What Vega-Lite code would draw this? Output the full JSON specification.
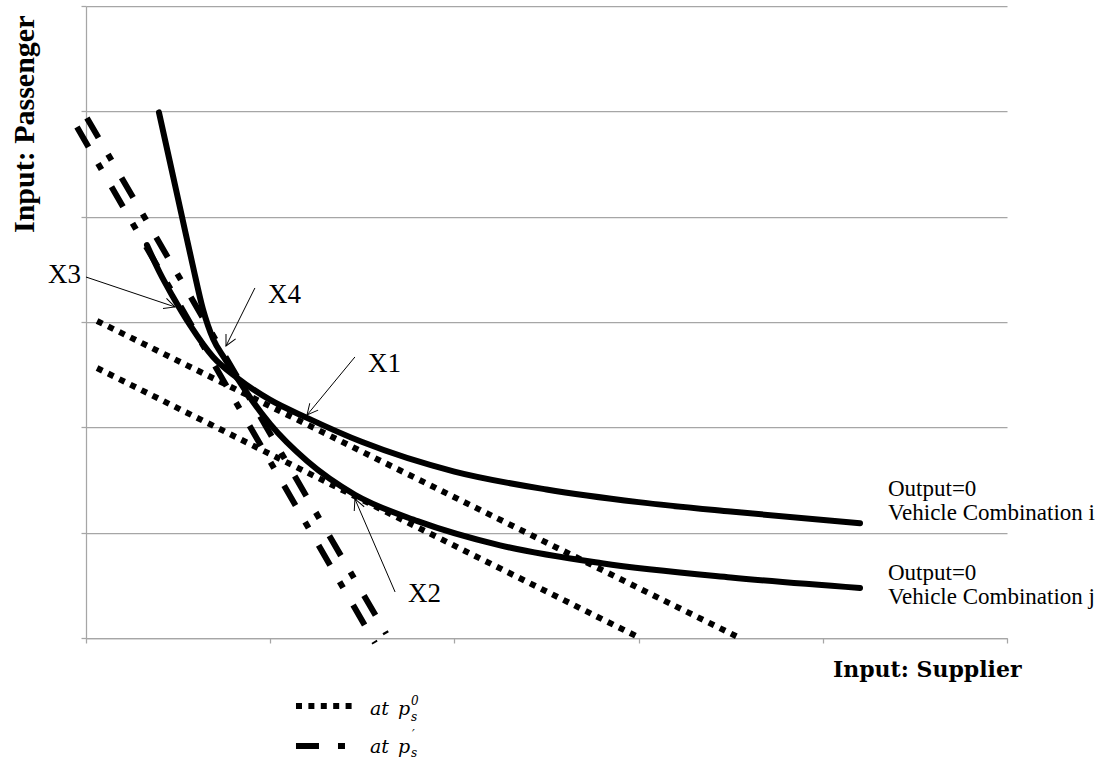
{
  "$schema": "https://vega.github.io/schema/vega-lite/v6.json",
  "width": 921,
  "height": 632,
  "autosize": {"type": "none"},
  "padding": {"left": 86, "top": 6, "right": 97, "bottom": 121},
  "background": "white",
  "config": {
    "view": {"stroke": null},
    "axis": {
      "domainColor": "#a6a6a6",
      "tickColor": "#a6a6a6",
      "gridColor": "#a6a6a6",
      "domainWidth": 1.25,
      "tickWidth": 1.25,
      "gridWidth": 1.25,
      "labels": false,
      "tickSize": 5,
      "titleColor": "black"
    }
  },
  "datasets": {
    "lines": [
      {"style": "solid", "series": "i", "x": 0.331, "y": 3.73},
      {"style": "solid", "series": "i", "x": 0.40, "y": 3.47},
      {"style": "solid", "series": "i", "x": 0.472, "y": 3.24},
      {"style": "solid", "series": "i", "x": 0.565, "y": 2.97},
      {"style": "solid", "series": "i", "x": 0.689, "y": 2.67},
      {"style": "solid", "series": "i", "x": 0.82, "y": 2.47},
      {"style": "solid", "series": "i", "x": 1.0, "y": 2.26},
      {"style": "solid", "series": "i", "x": 1.2, "y": 2.09},
      {"style": "solid", "series": "i", "x": 1.5, "y": 1.86},
      {"style": "solid", "series": "i", "x": 2.0, "y": 1.58},
      {"style": "solid", "series": "i", "x": 2.5, "y": 1.41},
      {"style": "solid", "series": "i", "x": 3.0, "y": 1.29},
      {"style": "solid", "series": "i", "x": 3.5, "y": 1.20},
      {"style": "solid", "series": "i", "x": 4.202, "y": 1.09},
      {"style": "solid", "series": "j", "x": 0.396, "y": 4.99},
      {"style": "solid", "series": "j", "x": 0.458, "y": 4.50},
      {"style": "solid", "series": "j", "x": 0.521, "y": 4.00},
      {"style": "solid", "series": "j", "x": 0.578, "y": 3.55},
      {"style": "solid", "series": "j", "x": 0.635, "y": 3.12},
      {"style": "solid", "series": "j", "x": 0.69, "y": 2.84},
      {"style": "solid", "series": "j", "x": 0.75, "y": 2.66},
      {"style": "solid", "series": "j", "x": 0.82, "y": 2.47},
      {"style": "solid", "series": "j", "x": 0.9, "y": 2.26},
      {"style": "solid", "series": "j", "x": 1.0, "y": 2.03},
      {"style": "solid", "series": "j", "x": 1.2, "y": 1.68},
      {"style": "solid", "series": "j", "x": 1.46, "y": 1.36},
      {"style": "solid", "series": "j", "x": 1.8, "y": 1.11},
      {"style": "solid", "series": "j", "x": 2.248, "y": 0.88},
      {"style": "solid", "series": "j", "x": 2.8, "y": 0.71},
      {"style": "solid", "series": "j", "x": 3.5, "y": 0.575},
      {"style": "solid", "series": "j", "x": 4.202, "y": 0.475},
      {"style": "dot", "series": "d1", "x": 0.06, "y": 3.01},
      {"style": "dot", "series": "d1", "x": 3.55, "y": 0.0},
      {"style": "dot", "series": "d2", "x": 0.06, "y": 2.563},
      {"style": "dot", "series": "d2", "x": 3.008, "y": 0.0},
      {"style": "dot", "series": "dl", "x": 1.14, "y": -0.646},
      {"style": "dot", "series": "dl", "x": 1.444, "y": -0.646},
      {"style": "dashdot", "series": "a1", "x": -0.049, "y": 4.851},
      {"style": "dashdot", "series": "a1", "x": 1.569, "y": -0.047},
      {"style": "dashdot", "series": "a2", "x": 0.005, "y": 4.937},
      {"style": "dashdot", "series": "a2", "x": 1.63, "y": 0.04},
      {"style": "dashdot", "series": "al", "x": 1.14, "y": -1.025},
      {"style": "dashdot", "series": "al", "x": 1.412, "y": -1.025}
    ],
    "arrows": [
      {"label": "X3", "x": 0.0, "y": 3.427, "tx": 0.483, "ty": 3.143},
      {"label": "X4", "x": 0.917, "y": 3.323, "tx": 0.760, "ty": 2.772},
      {"label": "X1", "x": 1.460, "y": 2.668, "tx": 1.200, "ty": 2.117},
      {"label": "X2", "x": 1.678, "y": 0.437, "tx": 1.460, "ty": 1.320}
    ],
    "heads": [
      {"label": "X3", "x": 0.483, "y": 3.143},
      {"label": "X4", "x": 0.760, "y": 2.772},
      {"label": "X1", "x": 1.200, "y": 2.117},
      {"label": "X2", "x": 1.460, "y": 1.320}
    ],
    "xlabels": [
      {"label": "X3", "x": -0.206, "y": 3.370},
      {"label": "X4", "x": 0.988, "y": 3.180},
      {"label": "X1", "x": 1.531, "y": 2.525},
      {"label": "X2", "x": 1.748, "y": 0.342}
    ],
    "outlabels": [
      {"label": "Output=0|Vehicle Combination i", "x": 4.354, "y": 1.348},
      {"label": "Output=0|Vehicle Combination j", "x": 4.354, "y": 0.551}
    ],
    "legtext": [
      {"role": "main", "t": "at", "x": 1.542, "y": -0.731},
      {"role": "main", "t": "p", "x": 1.694, "y": -0.731},
      {"role": "main", "t": "at", "x": 1.542, "y": -1.092},
      {"role": "main", "t": "p", "x": 1.694, "y": -1.092},
      {"role": "small", "t": "0", "x": 1.764, "y": -0.636},
      {"role": "small", "t": "s", "x": 1.764, "y": -0.788},
      {"role": "small", "t": "s", "x": 1.764, "y": -1.125},
      {"role": "small", "t": "′", "x": 1.770, "y": -0.959}
    ]
  },
  "encoding": {
    "x": {"field": "x", "type": "quantitative", "scale": {"domain": [0, 5], "nice": false, "zero": false},
      "axis": {"values": [0, 1, 2, 3, 4, 5], "grid": false, "title": "Input: Supplier", "titleFont": "DejaVu Serif", "titleFontSize": 22, "titleFontWeight": "bold", "titleAlign": "right", "titleBaseline": "alphabetic", "titleX": 935, "titleY": 38}},
    "y": {"field": "y", "type": "quantitative", "scale": {"domain": [0, 6], "nice": false, "zero": false},
      "axis": {"values": [0, 1, 2, 3, 4, 5, 6], "grid": true, "title": "Input: Passenger", "titleFont": "Liberation Serif", "titleFontSize": 30, "titleFontWeight": "bold", "titleAngle": -90, "titleAlign": "right", "titleBaseline": "alphabetic", "titleX": -53, "titleY": 9}}
  },
  "layer": [
    {
      "data": {"name": "lines"},
      "transform": [{"filter": "datum.style == 'dot'"}],
      "mark": {"type": "line", "color": "black", "strokeWidth": 6, "strokeCap": "butt", "strokeDash": [6, 6.4]},
      "encoding": {"detail": {"field": "series"}}
    },
    {
      "data": {"name": "lines"},
      "transform": [{"filter": "datum.style == 'dashdot'"}],
      "mark": {"type": "line", "color": "black", "strokeWidth": 6, "strokeCap": "butt", "strokeDash": [23, 19, 7, 20]},
      "encoding": {"detail": {"field": "series"}}
    },
    {
      "data": {"name": "lines"},
      "transform": [{"filter": "datum.style == 'solid'"}],
      "mark": {"type": "line", "color": "black", "strokeWidth": 6, "strokeCap": "round", "strokeJoin": "round", "interpolate": "monotone"},
      "encoding": {"detail": {"field": "series"}}
    },
    {
      "data": {"name": "arrows"},
      "mark": {"type": "rule", "color": "black", "strokeWidth": 1},
      "encoding": {"x2": {"field": "tx"}, "y2": {"field": "ty"}}
    },
    {
      "data": {"name": "heads"},
      "transform": [{"filter": "datum.label == 'X1'"}],
      "mark": {"type": "point", "shape": "M-0.6,-1.2L0,0L0.6,-1.2", "filled": false, "stroke": "black", "strokeWidth": 1, "size": 324, "opacity": 1, "angle": 39.6}
    },
    {
      "data": {"name": "heads"},
      "transform": [{"filter": "datum.label == 'X2'"}],
      "mark": {"type": "point", "shape": "M-0.6,-1.2L0,0L0.6,-1.2", "filled": false, "stroke": "black", "strokeWidth": 1, "size": 324, "opacity": 1, "angle": 156.7}
    },
    {
      "data": {"name": "heads"},
      "transform": [{"filter": "datum.label == 'X3'"}],
      "mark": {"type": "point", "shape": "M-0.6,-1.2L0,0L0.6,-1.2", "filled": false, "stroke": "black", "strokeWidth": 1, "size": 324, "opacity": 1, "angle": -71.4}
    },
    {
      "data": {"name": "heads"},
      "transform": [{"filter": "datum.label == 'X4'"}],
      "mark": {"type": "point", "shape": "M-0.6,-1.2L0,0L0.6,-1.2", "filled": false, "stroke": "black", "strokeWidth": 1, "size": 324, "opacity": 1, "angle": 26.6}
    },
    {
      "data": {"name": "xlabels"},
      "mark": {"type": "text", "font": "Liberation Serif", "fontSize": 27, "align": "left", "baseline": "alphabetic", "color": "black"},
      "encoding": {"text": {"field": "label"}}
    },
    {
      "data": {"name": "outlabels"},
      "mark": {"type": "text", "font": "Liberation Serif", "fontSize": 23, "lineHeight": 24, "lineBreak": "|", "align": "left", "baseline": "alphabetic", "color": "black"},
      "encoding": {"text": {"field": "label"}}
    },
    {
      "data": {"name": "legtext"},
      "transform": [{"filter": "datum.role == 'main'"}],
      "mark": {"type": "text", "font": "DejaVu Serif", "fontStyle": "italic", "fontSize": 19, "align": "left", "baseline": "alphabetic", "color": "black"},
      "encoding": {"text": {"field": "t"}}
    },
    {
      "data": {"name": "legtext"},
      "transform": [{"filter": "datum.role == 'small'"}],
      "mark": {"type": "text", "font": "DejaVu Serif", "fontStyle": "italic", "fontSize": 12, "align": "left", "baseline": "alphabetic", "color": "black"},
      "encoding": {"text": {"field": "t"}}
    }
  ]
}
